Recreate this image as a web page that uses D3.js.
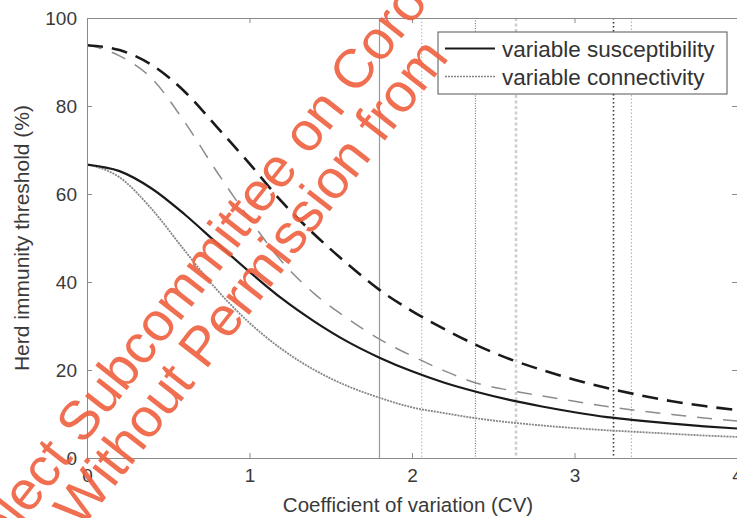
<!DOCTYPE html>
<html>
<head>
<meta charset="utf-8">
<script src="https://cdn.jsdelivr.net/npm/d3@7"></script>
<style>
  body { margin: 0; background: #fff; }
  svg { display: block; }
  text { font-family: "Liberation Sans", Arial, Helvetica, sans-serif; }
</style>
</head>
<body>
<div id="chart"></div>
<script>
// coefficient of variation grid
const cv = [0, 0.2, 0.4, 0.6, 0.8, 1.0, 1.2, 1.4, 1.6, 1.8, 2.0,
            2.2, 2.4, 2.6, 2.8, 3.0, 3.2, 3.4, 3.6, 3.8, 4.0];

// herd immunity threshold (%)
const suscLow = [66.7, 65.2, 61.2, 55.4, 48.8, 42.3, 36.2, 31.0, 26.5, 22.8, 19.7,
                 17.1, 15.0, 13.2, 11.7, 10.4, 9.3, 8.5, 7.8, 7.2, 6.7];
const connLow = [66.7, 63.8, 56.5, 47.2, 38.2, 30.7, 24.7, 20.0, 16.4, 13.7, 11.5,
                 10.2, 9.0, 8.1, 7.4, 6.8, 6.3, 5.9, 5.5, 5.1, 4.8];
const suscHigh = [93.8, 92.7, 89.3, 83.3, 75.2, 66.9, 58.2, 50.8, 44.2, 38.2, 33.4,
                  29.3, 25.6, 22.5, 20.0, 17.8, 15.9, 14.3, 12.9, 11.8, 10.9];
const connHigh = [93.9, 91.4, 86.2, 76.4, 65.0, 54.3, 44.6, 37.3, 31.8, 27.0, 23.2,
                  19.8, 17.0, 15.4, 14.1, 12.9, 11.7, 10.7, 9.9, 9.1, 8.4];

// vertical reference lines (CV)
const markerCV = [1.80, 2.06, 2.39, 2.64, 3.24, 3.35];

const xTicks = [0, 1, 2, 3, 4];
const yTicks = [0, 20, 40, 60, 80, 100];
const legendLabels = ["variable susceptibility", "variable connectivity"];

var margin = { top: 18, right: 0, bottom: 60, left: 87 },
    width = 737 - margin.left - margin.right,
    height = 518 - margin.top - margin.bottom;

var svg = d3.select("#chart").append("svg")
    .attr("width", 737)
    .attr("height", 518);

var g = svg.append("g")
    .attr("transform", "translate(" + margin.left + "," + margin.top + ")");

var x = d3.scaleLinear().domain([0, 4]).range([0, width]);
var y = d3.scaleLinear().domain([0, 100]).range([height, 0]);

g.append("clipPath").attr("id", "plot-clip")
  .append("rect").attr("width", width).attr("height", height);

// vertical marker lines
var markerStyle = [
    { stroke: "#9a9a9a", w: 1.2, dash: null },
    { stroke: "#b0b0b0", w: 1, dash: "1.5,2" },
    { stroke: "#6a6a6a", w: 1, dash: "1,1.5" },
    { stroke: "#cfcfcf", w: 2.6, dash: "3,2.5" },
    { stroke: "#333", w: 1.6, dash: "1.5,2.5" },
    { stroke: "#aaa", w: 1, dash: "1.5,2" }
];

g.selectAll("line.marker")
    .data(markerCV)
    .enter().append("line")
    .attr("class", "marker")
    .attr("x1", function (d) { return x(d); })
    .attr("x2", function (d) { return x(d); })
    .attr("y1", 0)
    .attr("y2", height)
    .attr("stroke", function (d, i) { return markerStyle[i].stroke; })
    .attr("stroke-width", function (d, i) { return markerStyle[i].w; })
    .attr("stroke-dasharray", function (d, i) { return markerStyle[i].dash; });

// curves
var line = d3.line()
    .x(function (d) { return x(d[0]); })
    .y(function (d) { return y(d[1]); })
    .curve(d3.curveMonotoneX);

var series = [
    { values: connLow,  stroke: "#858585", w: 1.8, dash: "2,1" },
    { values: connHigh, stroke: "#8c8c8c", w: 1.5, dash: "15,11" },
    { values: suscLow,  stroke: "#1a1a1a", w: 2.2, dash: null },
    { values: suscHigh, stroke: "#1a1a1a", w: 2.6, dash: "16,9" }
];

g.append("g").attr("clip-path", "url(#plot-clip)")
  .selectAll("path.curve")
    .data(series)
    .enter().append("path")
    .attr("class", "curve")
    .attr("fill", "none")
    .attr("stroke", function (d) { return d.stroke; })
    .attr("stroke-width", function (d) { return d.w; })
    .attr("stroke-dasharray", function (d) { return d.dash; })
    .attr("d", function (d) { return line(cv.map(function (c, i) { return [c, d.values[i]]; })); });

// axes, matlab style box with inward ticks
function styleAxis(sel) {
    sel.select(".domain").attr("stroke", "#8a8a8a");
    sel.selectAll(".tick line").attr("stroke", "#8a8a8a");
    sel.selectAll(".tick text").attr("fill", "#3a3a3a").style("font-size", "19px");
}

g.append("g")
    .attr("transform", "translate(0," + height + ")")
    .call(d3.axisBottom(x).tickValues(xTicks).tickFormat(d3.format("d"))
        .tickSizeInner(-5).tickSizeOuter(0).tickPadding(11))
    .call(styleAxis);

g.append("g")
    .call(d3.axisLeft(y).tickValues(yTicks)
        .tickSizeInner(-5).tickSizeOuter(0).tickPadding(10))
    .call(styleAxis);

g.append("g")
    .call(d3.axisTop(x).tickValues(xTicks).tickFormat("")
        .tickSizeInner(-5).tickSizeOuter(0))
    .call(styleAxis);

g.append("g")
    .attr("transform", "translate(" + width + ",0)")
    .call(d3.axisRight(y).tickValues(yTicks).tickFormat("")
        .tickSizeInner(-5).tickSizeOuter(0))
    .call(styleAxis);

// axis titles
g.append("text")
    .attr("x", width / 2 - 4)
    .attr("y", height + 54)
    .attr("text-anchor", "middle")
    .attr("fill", "#3a3a3a")
    .style("font-size", "20.5px")
    .text("Coefficient of variation (CV)");

g.append("text")
    .attr("transform", "rotate(-90)")
    .attr("x", -height / 2)
    .attr("y", -58)
    .attr("text-anchor", "middle")
    .attr("fill", "#3a3a3a")
    .style("font-size", "21px")
    .text("Herd immunity threshold (%)");

// legend
var legend = svg.append("g").attr("transform", "translate(438,32)");
legend.append("rect")
    .attr("width", 289)
    .attr("height", 62)
    .attr("fill", "#fff")
    .attr("stroke", "#555")
    .attr("stroke-width", 1);

var legendItems = legend.selectAll("g.item")
    .data(legendLabels)
    .enter().append("g")
    .attr("class", "item")
    .attr("transform", function (d, i) { return "translate(0," + (16.5 + i * 28) + ")"; });

legendItems.append("line")
    .attr("x1", 7).attr("x2", 57)
    .attr("stroke", function (d, i) { return series[i === 0 ? 2 : 0].stroke; })
    .attr("stroke-width", function (d, i) { return i === 0 ? 2 : 1.6; })
    .attr("stroke-dasharray", function (d, i) { return i === 0 ? null : "2,1"; });

legendItems.append("text")
    .attr("x", 64)
    .attr("y", 8)
    .attr("fill", "#333")
    .style("font-size", "22.5px")
    .text(function (d) { return d; });

// watermark of the source document
var wm = svg.append("g")
    .attr("transform", "translate(83,446) rotate(-52)")
    .attr("fill", "#f0603f")
    .attr("opacity", 0.9)
    .style("font-size", "55px");

wm.append("text")
    .attr("x", -168)
    .attr("y", 0)
    .text("Select Subcommittee on Coronavirus");

wm.append("text")
    .attr("x", -538)
    .attr("y", 50)
    .text("Do Not Reproduce Without Permission from");
</script>
</body>
</html>
